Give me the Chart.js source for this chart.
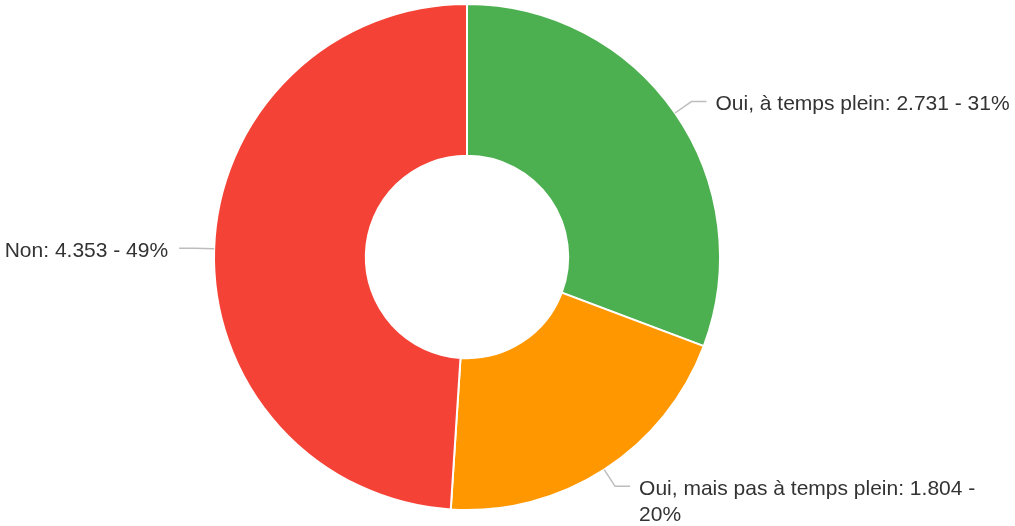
<!DOCTYPE html>
<html>
<head>
<meta charset="utf-8">
<script src="https://cdn.jsdelivr.net/npm/chart.js@4"></script>
<style>
  html, body { margin: 0; padding: 0; background: #fff; }
  #wrap { width: 1015px; height: 526px; position: relative; }
</style>
</head>
<body>
<div id="wrap"><canvas id="donut"></canvas></div>
<script>
// réponses au sondage
const categories = ['Oui, à temps plein', 'Oui, mais pas à temps plein', 'Non']
const reponses = [2731, 1804, 4353]
const couleurs = ['#4CAF50', '#FF9800', '#F44336']

const total = reponses.reduce((a, b) => a + b, 0)

const formatNombre = function (n) {
  return String(n).replace(/\B(?=(\d{3})+(?!\d))/g, '.')
}

// étiquettes avec traits de rappel
const etiquettes = {
  id: 'etiquettes',
  afterDatasetsDraw(chart) {
    const ctx = chart.ctx
    const meta = chart.getDatasetMeta(0)
    ctx.save()
    ctx.font = '21px "Liberation Sans", Arial, sans-serif'
    ctx.textBaseline = 'middle'
    meta.data.forEach((arc, i) => {
      const p = arc.getProps(['x', 'y', 'startAngle', 'endAngle', 'outerRadius'])
      const mid = (p.startAngle + p.endAngle) / 2
      const cos = Math.cos(mid)
      const sin = Math.sin(mid)
      const x0 = p.x + cos * p.outerRadius
      const y0 = p.y + sin * p.outerRadius
      const x1 = p.x + cos * (p.outerRadius + 20)
      const y1 = p.y + sin * (p.outerRadius + 20)
      const droite = cos >= 0
      const x2 = x1 + (droite ? 15 : -15)

      ctx.strokeStyle = '#bdbdbd'
      ctx.lineWidth = 1.5
      ctx.beginPath()
      ctx.moveTo(x0, y0)
      ctx.lineTo(x1, y1)
      ctx.lineTo(x2, y1)
      ctx.stroke()

      const val = reponses[i]
      const texte = categories[i] + ': ' + formatNombre(val) + ' - ' + Math.round((val / total) * 100) + '%'
      const tx = x2 + (droite ? 9 : -11)
      const maxW = droite ? chart.width - tx - 2 : tx - 2

      // découpage en lignes
      const mots = texte.split(' ')
      const lignes = []
      let ligne = ''
      mots.forEach((m) => {
        const essai = ligne ? ligne + ' ' + m : m
        if (ctx.measureText(essai).width > maxW && ligne) {
          lignes.push(ligne)
          ligne = m
        } else {
          ligne = essai
        }
      })
      lignes.push(ligne)

      ctx.fillStyle = '#333333'
      ctx.textAlign = droite ? 'left' : 'right'
      lignes.forEach((l, k) => {
        ctx.fillText(l, tx, y1 + 3 + k * 26)
      })
    })
    ctx.restore()
  },
}

new Chart(document.getElementById('donut'), {
  type: 'doughnut',
  data: {
    labels: categories,
    datasets: [
      {
        data: reponses,
        backgroundColor: couleurs,
        borderColor: '#ffffff',
        borderWidth: 2,
      },
    ],
  },
  options: {
    responsive: true,
    maintainAspectRatio: false,
    animation: false,
    cutout: '40%',
    layout: {
      padding: { left: 213, right: 294, top: 3, bottom: 15 },
    },
    plugins: {
      legend: { display: false },
      tooltip: { enabled: false },
    },
  },
  plugins: [etiquettes],
})
</script>
</body>
</html>
